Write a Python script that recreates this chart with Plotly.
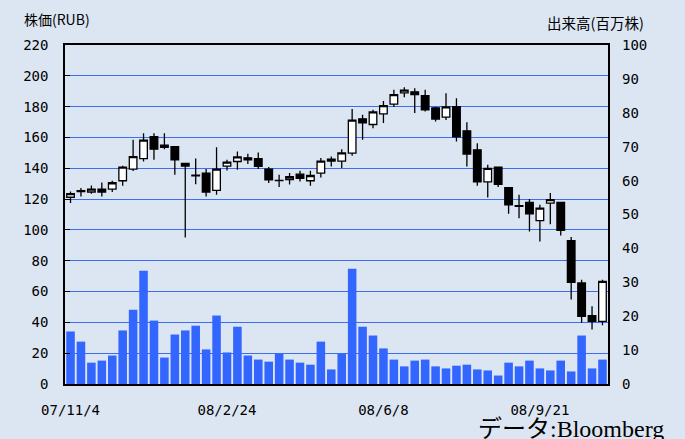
import plotly.graph_objects as go

# ---- data ----
open_ = [121.2,125.5,124.6,126.5,126.5,131.9,139.5,146.3,160.6,155.0,154.1,143.1,135.5,136.9,125.6,141.4,144.4,
         146.8,146.3,139.5,132.2,132.7,136.2,131.9,136.9,145.9,144.7,149.8,172.1,168.4,175.3,181.6,188.9,
         189.6,187.2,179.2,173.2,180.0,164.3,152.0,131.2,140.8,127.5,115.7,117.8,106.0,117.4,117.8,93.0,65.6,44.4,40.7]
high_ = [124.9,127.2,128.8,130.8,131.9,141.6,158.5,162.8,162.8,162.8,154.1,143.1,146.3,139.5,153.7,145.5,150.9,
         149.4,150.2,140.8,135.8,136.9,138.4,138.4,146.6,147.6,152.4,178.4,174.7,177.9,183.7,190.9,192.6,
         192.0,190.9,180.0,188.7,185.5,169.9,156.3,142.3,140.8,127.5,122.8,120.0,116.3,123.9,117.8,95.4,67.7,50.4,67.7]
low_ = [117.4,121.7,123.5,121.7,124.6,128.6,138.3,144.4,145.5,152.4,135.8,95.1,129.7,121.7,122.8,138.6,139.0,
        142.8,139.5,130.4,127.8,129.5,131.4,128.6,134.0,141.2,140.1,148.1,158.5,166.0,169.3,179.7,186.1,
        175.8,176.8,170.3,171.4,157.4,141.2,128.6,121.1,127.8,110.5,107.5,99.0,92.5,103.6,96.4,54.8,39.7,35.3,38.1]
close_ = [123.5,124.8,126.5,124.6,130.6,140.8,147.6,158.3,152.4,153.5,145.5,141.4,135.1,124.6,139.5,144.0,147.4,
          145.5,141.2,132.5,132.0,134.5,133.4,135.3,144.7,144.7,150.0,171.2,169.4,176.6,180.7,187.8,190.7,
          187.8,177.9,171.9,179.8,160.4,149.2,131.2,139.9,129.5,116.3,115.3,110.5,114.2,119.6,99.7,66.0,43.9,40.7,66.6]
volume = [15.5,12.5,6.3,6.9,8.4,15.8,21.9,33.4,18.7,7.8,14.6,15.8,17.2,10.2,20.2,9.3,16.9,
          8.4,7.2,6.6,9.0,7.2,6.3,5.7,12.5,4.3,9.0,34.0,16.9,14.3,10.5,7.2,5.2,
          6.9,7.2,5.2,4.6,5.4,5.7,4.3,4.0,2.5,6.3,5.2,6.9,4.6,4.0,6.9,3.7,14.3,4.6,7.2]
week = list(range(len(open_)))
tick_pos = [0, 15, 30, 45]
tick_labels = ["07/11/4", "08/2/24", "08/6/8", "08/9/21"]

BG = "#dce6f2"
GRID = "#3d6ef2"
BAR = "#3366ff"
JP = "Noto Sans CJK JP"
NUM = "DejaVu Sans Mono"

fig = go.Figure()
fig.add_trace(go.Bar(x=week, y=volume, yaxis="y2", marker=dict(color=BAR, line=dict(width=0)),
                     width=0.82, showlegend=False))
fig.add_trace(go.Candlestick(x=week, open=open_, high=high_, low=low_, close=close_,
                             increasing=dict(fillcolor="white", line=dict(color="black", width=1.3)),
                             decreasing=dict(fillcolor="black", line=dict(color="black", width=1.3)),
                             whiskerwidth=0, showlegend=False))

fig.update_layout(
    width=685, height=439,
    margin=dict(l=65, r=77, t=45, b=55, autoexpand=False),
    paper_bgcolor=BG, plot_bgcolor=BG,
    boxgap=0.27, boxgroupgap=0,
    showlegend=False,
    xaxis=dict(range=[-0.53, 51.53], tickvals=tick_pos, ticktext=tick_labels, automargin=False,
               showgrid=False, zeroline=False, showline=True, linecolor="black", linewidth=1.5,
               mirror=True, ticks="", ticklabelstandoff=12,
               tickfont=dict(family=NUM, size=14, color="black"),
               rangeslider=dict(visible=False)),
    yaxis=dict(range=[0, 220], dtick=20, showgrid=True, gridcolor=GRID, gridwidth=1.2, automargin=False,
               zeroline=False, showline=True, linecolor="black", linewidth=1.5, mirror=True,
               ticks="inside", ticklen=5, tickcolor="black", ticklabelstandoff=12,
               tickfont=dict(family=NUM, size=14, color="black")),
    yaxis2=dict(range=[0, 100], dtick=10, overlaying="y", side="right", showgrid=False, automargin=False,
                zeroline=False, showline=False, ticks="", ticklabelstandoff=13,
                tickfont=dict(family=NUM, size=14, color="black")),
    annotations=[
        dict(text="株価(RUB)", xref="paper", yref="paper", x=-0.079, y=1.077,
             xanchor="left", yanchor="middle", showarrow=False,
             font=dict(family=JP, size=14, color="black")),
        dict(text="出来高(百万株)", xref="paper", yref="paper", x=1.070, y=1.065,
             xanchor="right", yanchor="middle", showarrow=False,
             font=dict(family=JP, size=14.5, color="black")),
        dict(text="データ:Bloomberg", xref="paper", yref="paper", x=1.107, y=-0.134,
             xanchor="right", yanchor="middle", showarrow=False,
             font=dict(family="Liberation Serif, Noto Sans CJK JP", size=24, color="black")),
    ],
)

fig.write_html("out.html", config={"displayModeBar": False},
               post_script="document.body.style.margin='0';document.body.style.background='#dce6f2';")
